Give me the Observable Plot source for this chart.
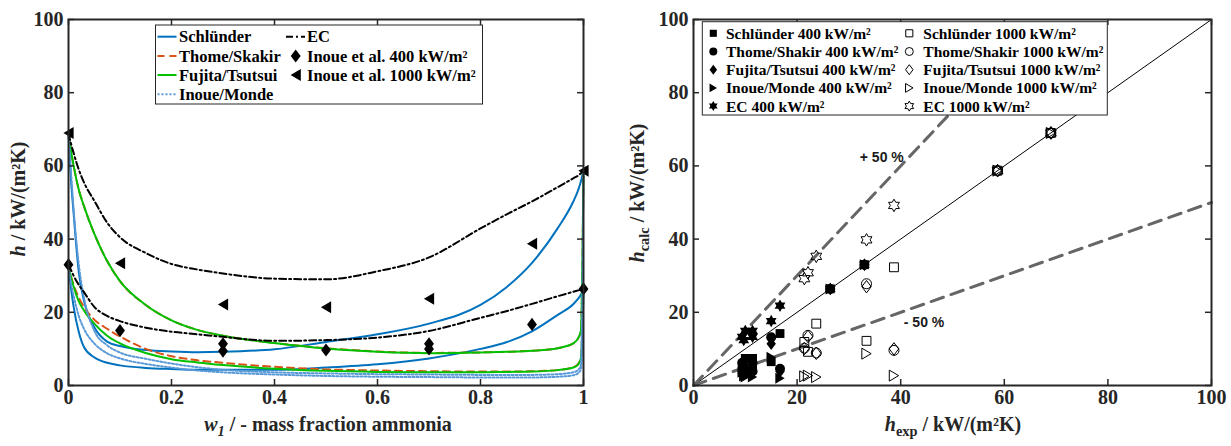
<!DOCTYPE html>
<html><head><meta charset="utf-8">
<script src="https://cdn.jsdelivr.net/npm/d3@7"></script>
<script src="https://cdn.jsdelivr.net/npm/@observablehq/plot@0.6"></script>
<style>
body{margin:0;background:#fff;font-size:10px;}
#wrap{position:relative;width:1231px;height:446px;overflow:hidden;}
#left{position:absolute;left:0;top:0;}
#right{position:absolute;left:615px;top:0;}
svg{overflow:visible;}
</style></head><body><div id="wrap"><div id="left"></div><div id="right"></div></div>
<script>
// ---------- LEFT PANEL DATA ----------
const w1 = [0, 0.005, 0.01, 0.02, 0.03, 0.05, 0.075, 0.1, 0.15, 0.2, 0.25, 0.3, 0.4, 0.5, 0.6, 0.7, 0.8, 0.85, 0.9, 0.95, 0.98, 0.99, 0.995, 1];
const schlunder400  = [33, 26.5, 21.5, 14.6, 10.5, 7.7, 6.2, 5.5, 4.8, 4.5, 4.3, 4.3, 4.3, 4.9, 5.8, 7.4, 10, 11.8, 14.8, 19.3, 22.2, 23.8, 24.8, 26.4];
const schlunder1000 = [69, 56, 47, 31, 23.2, 15.9, 12, 10.8, 9.7, 9.3, 9.1, 9.2, 9.9, 11.9, 14, 16.9, 22, 26.8, 33.5, 43, 50.2, 53.5, 55.8, 58.7];
const thome400      = [33, 29.8, 27.5, 24, 21.5, 18, 15.5, 13.4, 10, 8, 6.9, 6.2, 5.1, 4.4, 4.1, 3.9, 3.8, 3.8, 3.9, 4.2, 5, 6, 7.8, 26.4];
const thome1000     = [69, 64, 60, 53.5, 49, 41.5, 34, 28.5, 22, 17.8, 15.2, 13.6, 11.6, 10.2, 9.3, 8.9, 9.05, 9.2, 9.5, 10.2, 11.5, 13, 15, 58.7];
const fujita400     = [33, 29.5, 27, 23, 20.5, 16.9, 13.6, 11.5, 8.9, 7.2, 6.3, 5.6, 4.6, 4, 3.7, 3.6, 3.6, 3.7, 3.8, 4.2, 4.9, 5.8, 7.5, 26.4];
const fujita1000    = [69, 64, 60, 53.5, 49, 41.5, 34, 28.5, 22, 17.8, 15.2, 13.6, 11.6, 10.1, 9.2, 8.8, 9, 9.2, 9.5, 10.2, 11.5, 13, 15, 58.7];
const inoueMonde400 = [33, 28, 24.5, 19, 15.5, 11.5, 8.8, 7.4, 5.9, 4.9, 4.1, 3.6, 3, 2.6, 2.4, 2.3, 2.2, 2.2, 2.2, 2.4, 2.8, 3.4, 4.5, 26.4];
const inoueMonde1000= [69, 58, 48, 33, 24, 15, 11, 9, 7.3, 6, 5, 4.3, 3.6, 3.3, 3.1, 3, 2.9, 2.9, 2.9, 3.1, 3.6, 4.3, 5.5, 58.7];
const ec400         = [33, 31.5, 30, 27.5, 25.5, 21.5, 19, 17.6, 15.8, 14.7, 14, 13.3, 12.2, 12.4, 13.1, 14.9, 18.5, 20.3, 22.3, 24.4, 25.6, 26, 26.2, 26.4];
const ec1000        = [69, 66, 63.5, 59, 55.5, 50.5, 44.5, 40.5, 36.2, 33.2, 31.7, 30.6, 29.2, 29, 31.2, 35, 42.9, 46.7, 50.3, 54.2, 56.6, 57.4, 58, 58.7];

// Inoue et al. measurements
const inoueW400  = [0, 0.1, 0.3, 0.3, 0.5, 0.7, 0.7, 0.9, 1];
const inoueH400  = [33, 15, 11.4, 9.4, 9.7, 11.4, 10, 16.7, 26.4];
const inoueW1000 = [0, 0.1, 0.3, 0.5, 0.7, 0.9, 1];
const inoueH1000 = [69, 33.4, 22.1, 21.4, 23.7, 38.7, 58.7];

// ---------- RIGHT PANEL DATA (h_calc at the measured points) ----------
const schlunderCalc400  = [33, 6.5, 4.3, 4.3, 4.9, 7.4, 7.4, 14.2, 26.4];
const thomeCalc400      = [33, 13.2, 6.2, 6.2, 4.4, 3.9, 3.9, 4.6, 26.4];
const fujitaCalc400     = [33, 11.4, 5.6, 5.6, 4, 3.6, 3.6, 3.8, 26.4];
const inoueMondeCalc400 = [33, 7.7, 3.6, 3.6, 2.6, 2.3, 2.3, 2.0, 26.4];
const ecCalc400         = [33, 17.6, 13.3, 13.3, 12.4, 14.9, 14.9, 21.8, 26.4];
const schlunderCalc1000  = [69, 12.2, 9.2, 11.9, 16.9, 32.3, 58.7];
const thomeCalc1000      = [69, 27.8, 13.7, 10.2, 8.9, 9.6, 58.7];
const fujitaCalc1000     = [69, 27, 13.4, 10.1, 8.8, 10, 58.7];
const inoueMondeCalc1000 = [69, 8.7, 2.7, 2.5, 2.3, 2.7, 58.7];
const ecCalc1000         = [69, 39.8, 30.8, 29.2, 35.3, 49.2, 58.7];

const leftXTicks = [0, 0.2, 0.4, 0.6, 0.8, 1];
const yTicks = [0, 20, 40, 60, 80, 100];
const rightXTicks = [0, 20, 40, 60, 80, 100];
const refX = [0, 100], diagY = [0, 100];
const plus50X = [0, 66.67], plus50Y = [0, 100];
const minus50X = [0, 100], minus50Y = [0, 50];
const annotText = ["+ 50 %", "- 50 %"], annotX = [32.1, 40.6], annotY = [62.4, 17.3];

// ---------- symbols ----------
const rOf = s => Math.sqrt(s / Math.PI);
const diamondTall = {draw(c, s){const r=rOf(s); c.moveTo(0,-1.2*r); c.lineTo(0.9*r,0); c.lineTo(0,1.2*r); c.lineTo(-0.9*r,0); c.closePath();}};
const triLeft = {draw(c, s){const r=rOf(s); c.moveTo(-0.85*r,0); c.lineTo(0.85*r,-r); c.lineTo(0.85*r,r); c.closePath();}};
const triRight = {draw(c, s){const r=rOf(s); c.moveTo(0.85*r,0); c.lineTo(-0.85*r,-r); c.lineTo(-0.85*r,r); c.closePath();}};
const hexagram = {draw(c, s){const r=rOf(s)*1.25, ri=r/Math.sqrt(3);
  for(let i=0;i<12;i++){const a=-Math.PI/2+i*Math.PI/6, rr=i%2?ri:r; const x=rr*Math.cos(a), y=rr*Math.sin(a); if(i) c.lineTo(x,y); else c.moveTo(x,y);} c.closePath();}};

const INK = "#262626";
const serif = "Liberation Serif";
const BLUE="#0072BD", ORANGE="#D95319", GREEN="#00C000", LBLUE="#5A9AD8";

const rows = (xs, ys, extra={}) => xs.map((x,i)=>({x, y: ys[i], ...extra}));

function frameMarks(xTicks, innerW, innerH){
  return [
    Plot.tickX(xTicks, {x: d=>d, insetTop: innerH-6, stroke: INK, strokeWidth: 1.5}),
    Plot.tickX(xTicks, {x: d=>d, insetBottom: innerH-6, stroke: INK, strokeWidth: 1.5}),
    Plot.tickY(yTicks, {y: d=>d, insetRight: innerW-6, stroke: INK, strokeWidth: 1.5}),
    Plot.tickY(yTicks, {y: d=>d, insetLeft: innerW-6, stroke: INK, strokeWidth: 1.5}),
    Plot.text(xTicks, {x: d=>d, frameAnchor: "bottom", dy: 18, text: d => String(d), fontSize: 20, fontWeight: "bold", fontFamily: serif, fill: INK}),
    Plot.text(yTicks, {y: d=>d, frameAnchor: "left", dx: -5, textAnchor: "end", text: d => String(d), fontSize: 20, fontWeight: "bold", fontFamily: serif, fill: INK}),
    Plot.frame({stroke: INK, strokeWidth: 2})
  ];
}

// ---------- LEFT PLOT ----------
const curveDefs = [
  {name:"Schlünder", series:[schlunder400, schlunder1000], stroke: BLUE, dash: null},
  {name:"Thome/Skakir", series:[thome400, thome1000], stroke: ORANGE, dash: "7,5"},
  {name:"Fujita/Tsutsui", series:[fujita400, fujita1000], stroke: GREEN, dash: null},
  {name:"Inoue/Monde", series:[inoueMonde400, inoueMonde1000], stroke: LBLUE, dash: "2,2"},
  {name:"EC", series:[ec400, ec1000], stroke: "#000", dash: "7,3,2,3"}
];
const LW=615, LH=446, LM={top:19,right:32,bottom:61,left:68};
const lineMarks = [];
for (const c of curveDefs) for (const s of c.series)
  lineMarks.push(Plot.line(rows(w1, s), {x:"x", y:"y", stroke: c.stroke, strokeWidth: 2, strokeDasharray: c.dash, curve: "monotone-x"}));

const left = Plot.plot({
  width: LW, height: LH, marginTop: LM.top, marginRight: LM.right, marginBottom: LM.bottom, marginLeft: LM.left,
  x: {domain: [0,1], axis: null}, y: {domain: [0,100], axis: null},
  style: {background: "transparent"},
  marks: [
    ...lineMarks,
    Plot.dot(rows(inoueW400, inoueH400), {x:"x", y:"y", symbol: diamondTall, r: 5.5, fill: "#000"}),
    Plot.dot(rows(inoueW1000, inoueH1000), {x:"x", y:"y", symbol: triLeft, r: 6, fill: "#000"}),
    ...frameMarks(leftXTicks, LW-LM.left-LM.right, LH-LM.top-LM.bottom)
  ]
});
document.getElementById("left").appendChild(left);

// ---------- RIGHT PLOT ----------
const RW=616, RH=446, RM={top:19,right:20,bottom:61,left:78};
const models = [
  {name:"Schlünder", sym:"square", r:5, c400: schlunderCalc400, c1000: schlunderCalc1000},
  {name:"Thome/Shakir", sym:"circle", r:5, c400: thomeCalc400, c1000: thomeCalc1000},
  {name:"Fujita/Tsutsui", sym: diamondTall, r:5.2, c400: fujitaCalc400, c1000: fujitaCalc1000},
  {name:"Inoue/Monde", sym: triRight, r:5.5, c400: inoueMondeCalc400, c1000: inoueMondeCalc1000},
  {name:"EC", sym: hexagram, r:5, c400: ecCalc400, c1000: ecCalc1000}
];
const scatterMarks = [];
for (const m of models)
  scatterMarks.push(Plot.dot(rows(inoueH400, m.c400), {x:"x", y:"y", symbol: m.sym, r: m.r, fill: "#000", stroke: "none"}));
for (const m of models)
  scatterMarks.push(Plot.dot(rows(inoueH1000, m.c1000), {x:"x", y:"y", symbol: m.sym, r: m.r, fill: "none", stroke: "#000", strokeWidth: 1}));

const right = Plot.plot({
  width: RW, height: RH, marginTop: RM.top, marginRight: RM.right, marginBottom: RM.bottom, marginLeft: RM.left,
  x: {domain: [0,100], axis: null}, y: {domain: [0,100], axis: null},
  style: {background: "transparent"},
  marks: [
    Plot.line(rows(refX, diagY), {x:"x", y:"y", stroke: "#000", strokeWidth: 1}),
    Plot.line(rows(plus50X, plus50Y), {x:"x", y:"y", stroke: "#666", strokeWidth: 3, strokeDasharray: "13,8"}),
    Plot.line(rows(minus50X, minus50Y), {x:"x", y:"y", stroke: "#666", strokeWidth: 3, strokeDasharray: "13,8"}),
    ...scatterMarks,
    Plot.text(annotText.map((t,i)=>({t, x: annotX[i], y: annotY[i]})), {x:"x", y:"y", text:"t", textAnchor:"start", fontFamily:"Liberation Sans", fontWeight:"bold", fontSize:14, fill:"#1a1a1a"}),
    ...frameMarks(rightXTicks, RW-RM.left-RM.right, RH-RM.top-RM.bottom)
  ]
});
document.getElementById("right").appendChild(right);

// ---------- axis titles ----------
function addText(svg, x, y, rotate, parts, size){
  const t = d3.select(svg).append("text")
    .attr("transform", `translate(${x},${y})` + (rotate ? ` rotate(${rotate})` : ""))
    .attr("text-anchor", "middle").attr("font-family", serif).attr("font-weight", "bold")
    .attr("font-size", size).attr("fill", INK);
  for (const p of parts) {
    const ts = t.append("tspan").text(p.t);
    if (p.i) ts.attr("font-style", "italic");
    if (p.sub) ts.attr("dy", "0.35em").attr("font-size", size*0.72);
    if (p.back) ts.attr("dy", "-0.25em");
  }
  return t;
}
addText(left, 25, 199, -90, [{t:"h", i:1}, {t:" / kW/(m²K)"}], 20);
addText(left, 328, 431, 0, [{t:"w", i:1}, {t:"1", i:1, sub:1}, {t:" / - mass fraction ammonia", back:1}], 20);
addText(right, 29, 193, -90, [{t:"h", i:1}, {t:"calc", sub:1}, {t:" / kW/(m²K)", back:1}], 20);
addText(right, 338, 431, 0, [{t:"h", i:1}, {t:"exp", sub:1}, {t:" / kW/(m²K)", back:1}], 20);

// ---------- legends ----------
function symPath(sym, r){
  const type = typeof sym === "string" ? ({square: d3.symbolSquare, circle: d3.symbolCircle})[sym] : sym;
  return d3.symbol(type, Math.PI*r*r)();
}
// left legend
{
  const g = d3.select(left).append("g").attr("font-family", serif).attr("font-weight","bold").attr("font-size", 16.5).attr("text-anchor","start").attr("fill","#000");
  g.append("rect").attr("x",155.5).attr("y",25).attr("width",327).attr("height",79).attr("fill","#fff").attr("stroke",INK).attr("stroke-width",1);
  const rowsY = [36.7, 56, 75, 94.3];
  curveDefs.forEach((c, i) => {
    const col = i < 4 ? 0 : 1, row = i < 4 ? i : i - 4;
    const x0 = col ? 286 : 157.5, x1 = col ? 305 : 176.5, tx = col ? 307 : 179;
    g.append("line").attr("x1",x0).attr("x2",x1).attr("y1",rowsY[row]).attr("y2",rowsY[row])
      .attr("stroke", c.stroke).attr("stroke-width",2).attr("stroke-dasharray", c.dash);
    g.append("text").attr("x",tx).attr("y",rowsY[row]).attr("dy","0.35em").text(c.name);
  });
  const ptLeg = [{sym: diamondTall, r:5.5, label:"Inoue et al. 400 kW/m²"}, {sym: triLeft, r:6, label:"Inoue et al. 1000 kW/m²"}];
  ptLeg.forEach((p, k) => {
    g.append("path").attr("d", symPath(p.sym, p.r)).attr("transform", `translate(295.7,${rowsY[k+1]})`).attr("fill","#000");
    g.append("text").attr("x",307).attr("y",rowsY[k+1]).attr("dy","0.35em").text(p.label);
  });
}
// right legend
{
  const g = d3.select(right).append("g").attr("font-family", serif).attr("font-weight","bold").attr("font-size", 15.5).attr("text-anchor","start").attr("fill","#000");
  g.append("rect").attr("x",87.3).attr("y",21.7).attr("width",405).attr("height",93.3).attr("fill","#fff").attr("stroke",INK).attr("stroke-width",1);
  models.forEach((m, i) => {
    const y = 33.3 + i*18.2;
    g.append("path").attr("d", symPath(m.sym, m.r*0.8)).attr("transform", `translate(98.3,${y})`).attr("fill","#000");
    g.append("text").attr("x",111).attr("y",y).attr("dy","0.35em").text(`${m.name} 400 kW/m²`);
    g.append("path").attr("d", symPath(m.sym, m.r*0.8)).attr("transform", `translate(294.3,${y})`).attr("fill","none").attr("stroke","#000");
    g.append("text").attr("x",308.3).attr("y",y).attr("dy","0.35em").text(`${m.name} 1000 kW/m²`);
  });
}
</script></body></html>
